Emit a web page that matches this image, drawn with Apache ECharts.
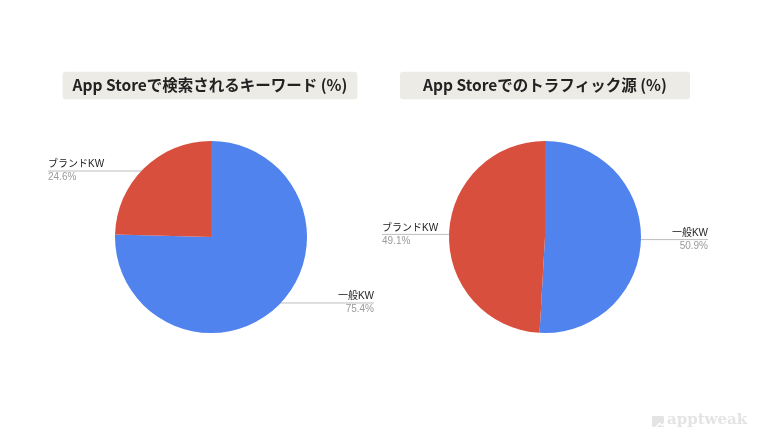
<!DOCTYPE html>
<html>
<head>
<meta charset="utf-8">
<style>
html,body{margin:0;padding:0;background:#fff;}
#c{width:768px;height:448px;}
</style>
<script src="https://cdn.jsdelivr.net/npm/echarts@6/dist/echarts.min.js"></script>
</head>
<body>
<div id="c"></div>
<script>
var titles = ['App Storeで検索されるキーワード (%)', 'App Storeでのトラフィック源 (%)'];
var categories = ['一般KW', 'ブランドKW'];
var searchValues = [75.4, 24.6];
var trafficValues = [50.9, 49.1];
var colors = ['#5083ed', '#d94f3d'];

var FONT = '"Noto Sans CJK JP", "Noto Sans", sans-serif';
var LFONT = '"Liberation Sans", "Noto Sans CJK JP", sans-serif';
var R = 96;
var boxes = [
  {left: 48, top: 141, width: 326, height: 192},
  {left: 382, top: 141, width: 326, height: 192}
];

function makeData(vals) {
  return categories.map(function (c, i) {
    return {name: c, value: vals[i], itemStyle: {color: colors[i]}};
  });
}

function makeSeries(vals, idx) {
  var b = boxes[idx];
  var cx = b.left + b.width / 2;
  var cy = b.top + b.height / 2;
  return {
    type: 'pie',
    left: b.left, top: b.top, width: b.width, height: b.height,
    center: ['50%', '50%'],
    radius: R,
    startAngle: 90,
    clockwise: true,
    silent: true,
    itemStyle: {borderWidth: 0},
    data: makeData(vals),
    label: {
      show: true,
      position: 'outside',
      alignTo: 'edge',
      edgeDistance: 0,
      overflow: 'none',
      formatter: function (p) {
        return '{n|' + p.name + '}\n{p|' + p.value.toFixed(1) + '%}';
      },
      rich: {
        n: {fontFamily: LFONT, fontSize: 10, color: '#222', lineHeight: 13},
        p: {fontFamily: LFONT, fontSize: 10, color: '#9a9a9a', lineHeight: 13}
      }
    },
    labelLine: {
      show: true,
      length: 0,
      length2: 10,
      smooth: false,
      lineStyle: {color: '#bdbdbd', width: 1}
    },
    labelLayout: function (p) {
      var pts = p.labelLinePoints;
      if (!pts) return {};
      var p0 = pts[0];
      var r = p.labelRect;
      var isLeft = (r.x + r.width / 2) < cx;
      var ix = cx + (p0[0] - cx) * 0.96;
      var iy = cy + (p0[1] - cy) * 0.96;
      var farX = isLeft ? r.x : r.x + r.width;
      return {
        x: farX,
        y: iy,
        align: isLeft ? 'left' : 'right',
        verticalAlign: 'middle',
        labelLinePoints: [[ix, iy], [ix, iy], [farX, iy]]
      };
    }
  };
}

function makeTitle(text, left) {
  return {
    text: '{t|' + text + '}',
    left: left, top: 71,
    backgroundColor: '#ecebe5', borderRadius: 3, padding: [6, 10, 6, 10],
    textStyle: {
      rich: {
        t: {fontFamily: FONT, fontSize: 15.5, fontWeight: 'bold', color: '#222', lineHeight: 17, width: 270, align: 'center'}
      }
    }
  };
}

var chart = echarts.init(document.getElementById('c'));
chart.setOption({
  animation: false,
  backgroundColor: '#ffffff',
  title: [makeTitle(titles[0], 65), makeTitle(titles[1], 400)],
  series: [makeSeries(searchValues, 0), makeSeries(trafficValues, 1)],
  graphic: [
    {type: 'rect', left: 652, top: 416, shape: {width: 12, height: 11, r: 1}, style: {fill: '#e4e4e4'}, silent: true},
    {type: 'polyline', left: 653, top: 418, shape: {points: [[0, 8], [4, 4], [7, 6], [11, 1]]}, style: {stroke: '#ffffff', lineWidth: 1.5, fill: null}, silent: true},
    {type: 'text', left: 667, top: 413, style: {text: 'apptweak', font: 'bold 15px "DejaVu Serif", serif', fill: '#e4e4e4'}, silent: true}
  ]
});
</script>
</body>
</html>
